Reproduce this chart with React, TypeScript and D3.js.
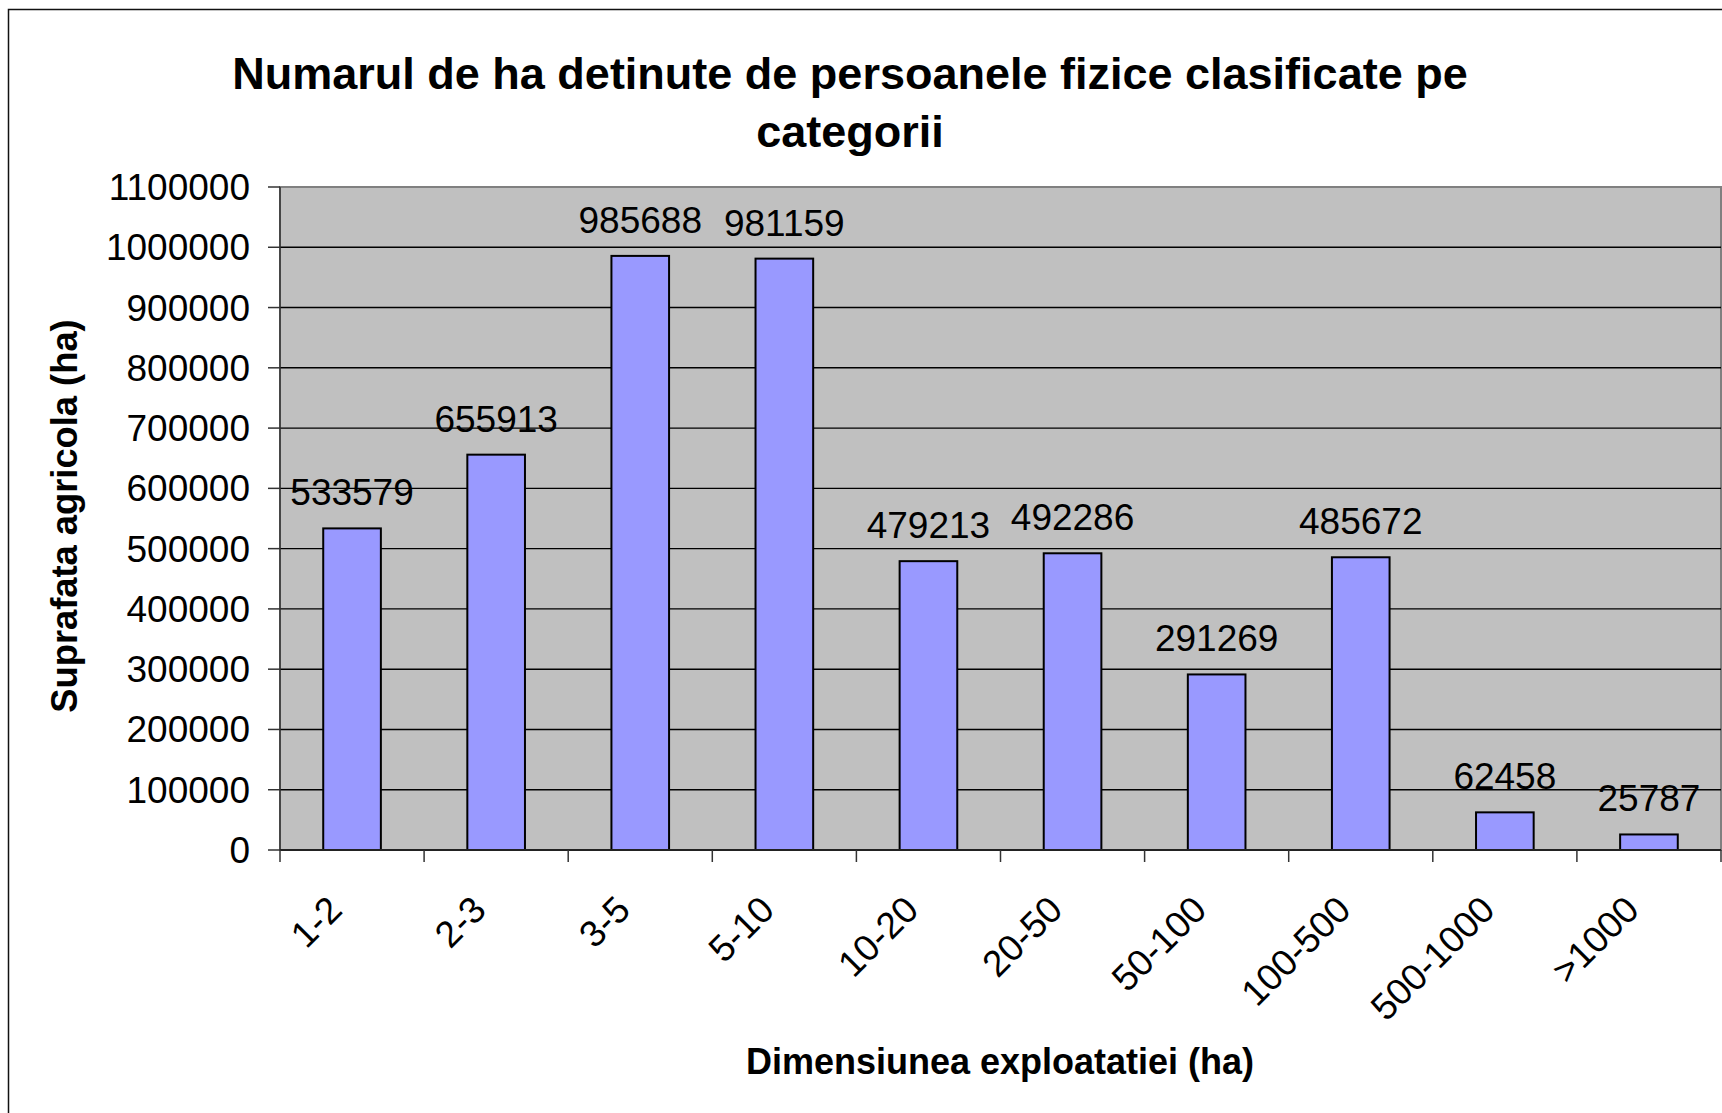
import React, { useEffect, useRef } from "react";
import * as d3 from "d3";

// categories (ha) and surface values
const categories = ["1-2", "2-3", "3-5", "5-10", "10-20", "20-50", "50-100", "100-500", "500-1000", ">1000"];
const values = [533579, 655913, 985688, 981159, 479213, 492286, 291269, 485672, 62458, 25787];
const yTicks = [0, 100000, 200000, 300000, 400000, 500000, 600000, 700000, 800000, 900000, 1000000, 1100000];

const titleLines = ["Numarul de ha detinute de persoanele fizice clasificate pe", "categorii"];
const xTitle = "Dimensiunea exploatatiei (ha)";
const yTitle = "Suprafata agricola (ha)";

const FONT = "'Liberation Sans', Arial, Helvetica, sans-serif";

const App = () => {
  const svgRef = useRef<SVGSVGElement>(null);
  const width = 1722,
    height = 1113;

  useEffect(() => {
    draw();
    // eslint-disable-next-line
  }, []);

  const draw = () => {
    const svg = d3.select(svgRef.current);
    svg.selectAll("*").remove();

    const plot = { left: 280, right: 1721, top: 187, bottom: 850 };

    const x = d3.scaleBand<string>().domain(categories).range([plot.left, plot.right]).padding(0);
    const y = d3.scaleLinear().domain([0, 1100000]).range([plot.bottom, plot.top]);
    const barW = x.bandwidth() * 0.4;

    svg.append("rect").attr("width", width).attr("height", height).attr("fill", "#fff");

    // outer chart frame (runs off the picture on right and bottom)
    svg
      .append("rect")
      .attr("x", 8.5)
      .attr("y", 9.5)
      .attr("width", 1800)
      .attr("height", 1200)
      .attr("fill", "none")
      .attr("stroke", "#111")
      .attr("stroke-width", 1.5);

    // title
    svg
      .append("g")
      .selectAll("text")
      .data(titleLines)
      .enter()
      .append("text")
      .attr("x", 850)
      .attr("y", (d, i) => 89 + i * 58)
      .attr("text-anchor", "middle")
      .style("font-family", FONT)
      .style("font-weight", "bold")
      .style("font-size", "45px")
      .attr("fill", "#000")
      .text((d) => d);

    // plot background
    svg
      .append("rect")
      .attr("x", plot.left)
      .attr("y", plot.top)
      .attr("width", plot.right - plot.left)
      .attr("height", plot.bottom - plot.top)
      .attr("fill", "#C0C0C0")
      .attr("stroke", "#808080")
      .attr("stroke-width", 2);

    // gridlines
    svg
      .append("g")
      .selectAll("line")
      .data(yTicks.filter((t) => t > 0 && t < 1100000))
      .enter()
      .append("line")
      .attr("x1", plot.left)
      .attr("x2", plot.right)
      .attr("y1", (d) => y(d))
      .attr("y2", (d) => y(d))
      .attr("stroke", "#000")
      .attr("stroke-width", 1.4);

    // y axis
    const yAxis = svg.append("g");
    yAxis
      .append("line")
      .attr("x1", plot.left)
      .attr("x2", plot.left)
      .attr("y1", plot.top)
      .attr("y2", plot.bottom)
      .attr("stroke", "#333")
      .attr("stroke-width", 1.5);
    yAxis
      .selectAll("line.tick")
      .data(yTicks)
      .enter()
      .append("line")
      .attr("class", "tick")
      .attr("x1", plot.left - 12)
      .attr("x2", plot.left)
      .attr("y1", (d) => y(d))
      .attr("y2", (d) => y(d))
      .attr("stroke", "#333")
      .attr("stroke-width", 1.5);
    yAxis
      .selectAll("text")
      .data(yTicks)
      .enter()
      .append("text")
      .attr("x", 250)
      .attr("y", (d) => y(d) + 13)
      .attr("text-anchor", "end")
      .style("font-family", FONT)
      .style("font-size", "37px")
      .text((d) => String(d));

    // bars
    svg
      .append("g")
      .selectAll("rect")
      .data(values)
      .enter()
      .append("rect")
      .attr("x", (d, i) => x(categories[i])! + (x.bandwidth() - barW) / 2)
      .attr("y", (d) => y(d))
      .attr("width", barW)
      .attr("height", (d) => plot.bottom - y(d))
      .attr("fill", "#9999FF")
      .attr("stroke", "#000")
      .attr("stroke-width", 2);

    // data labels
    svg
      .append("g")
      .selectAll("text")
      .data(values)
      .enter()
      .append("text")
      .attr("x", (d, i) => x(categories[i])! + x.bandwidth() / 2)
      .attr("y", (d) => y(d) - 23)
      .attr("text-anchor", "middle")
      .style("font-family", FONT)
      .style("font-size", "37px")
      .text((d) => String(d));

    // x axis
    const xAxis = svg.append("g");
    xAxis
      .append("line")
      .attr("x1", plot.left)
      .attr("x2", plot.right)
      .attr("y1", plot.bottom)
      .attr("y2", plot.bottom)
      .attr("stroke", "#222")
      .attr("stroke-width", 2);
    xAxis
      .selectAll("line.tick")
      .data(categories.concat(["end"]))
      .enter()
      .append("line")
      .attr("class", "tick")
      .attr("x1", (d, i) => plot.left + i * x.bandwidth())
      .attr("x2", (d, i) => plot.left + i * x.bandwidth())
      .attr("y1", plot.bottom)
      .attr("y2", plot.bottom + 12)
      .attr("stroke", "#333")
      .attr("stroke-width", 1.5);
    xAxis
      .selectAll("text")
      .data(categories)
      .enter()
      .append("text")
      .attr("transform", (d) => `translate(${x(d)! + x.bandwidth() / 2 - 8},912) rotate(-45)`)
      .attr("text-anchor", "end")
      .style("font-family", FONT)
      .style("font-size", "37px")
      .text((d) => d);

    // axis titles
    svg
      .append("text")
      .attr("x", 1000)
      .attr("y", 1074)
      .attr("text-anchor", "middle")
      .style("font-family", FONT)
      .style("font-weight", "bold")
      .style("font-size", "36px")
      .text(xTitle);

    svg
      .append("text")
      .attr("transform", "translate(77,516) rotate(-90)")
      .attr("text-anchor", "middle")
      .style("font-family", FONT)
      .style("font-weight", "bold")
      .style("font-size", "36.3px")
      .text(yTitle);
  };

  return (
    <div style={{ position: "absolute", left: 0, top: 0 }}>
      <svg ref={svgRef} width={width} height={height} style={{ display: "block" }}></svg>
    </div>
  );
};

export default App;
